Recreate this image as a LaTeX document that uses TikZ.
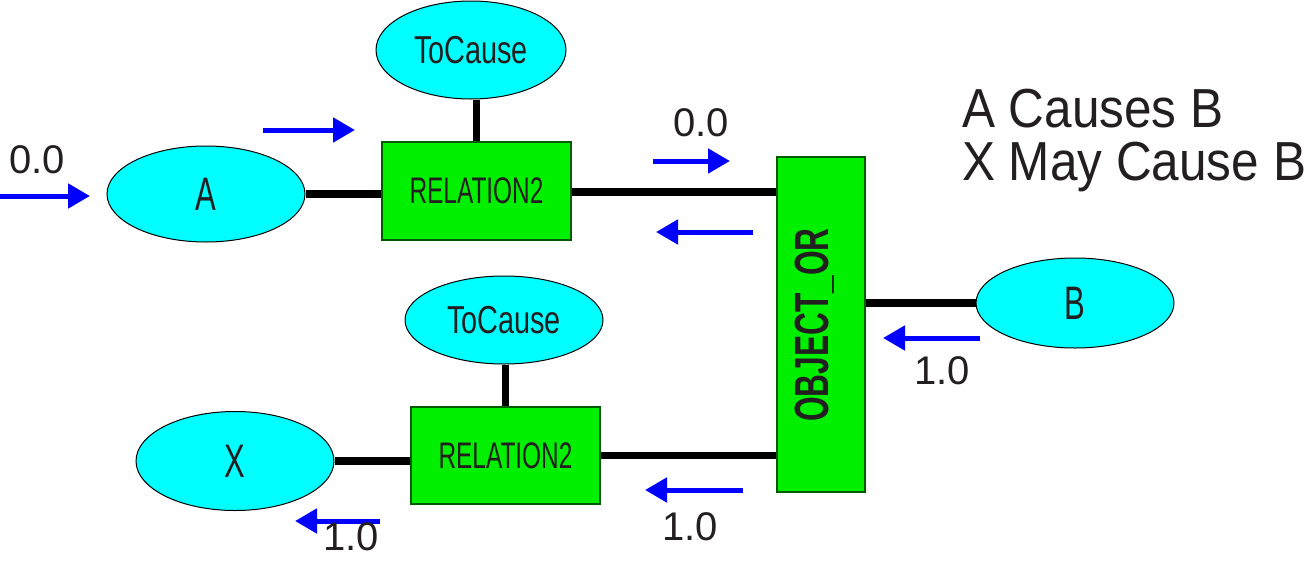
\documentclass[tikz,border=0pt]{standalone}
\usepackage{fontspec}
\setmainfont{Liberation Sans}
\usetikzlibrary{arrows.meta,shapes.geometric,calc}
\definecolor{cy}{RGB}{0,255,255}
\definecolor{gr}{RGB}{0,240,0}
\definecolor{grb}{RGB}{0,90,0}
\definecolor{bl}{RGB}{0,0,255}
\definecolor{tx}{RGB}{35,31,32}
\newcommand\nrw[2]{\scalebox{#1}[1]{#2}}
\newcommand\fs[1]{\fontsize{#1}{#1}\selectfont}
\tikzset{
  ell/.style={ellipse, draw=black, line width=1pt, fill=cy, minimum width=198pt, minimum height=96pt, inner sep=0pt, text=tx},
  box/.style={rectangle, draw=grb, line width=1.5pt, fill=gr, inner sep=0pt, text=tx},
  conn/.style={line width=7.5pt, black},
  flow/.style={line width=5pt, bl, -{Triangle[length=22pt,width=24pt]}},
  lbl/.style={inner sep=0pt, text=tx, font=\fs{40}}
}
\begin{document}
\begin{tikzpicture}[x=1pt,y=-1pt]
\useasboundingbox (0,0) rectangle (1308,560);
% nodes
\node[ell, minimum height=98pt, minimum width=190pt] (T1) at (471,50) {\fs{39}\nrw{0.74}{ToCause}};
\node[ell] (A) at (206,194) {\fs{47}\nrw{0.66}{A}};
\node[box, minimum width=189pt, minimum height=98pt] (R1) at (476.5,191) {\fs{37}\nrw{0.66}{RELATION2}};
\node[box, minimum width=88pt, minimum height=335pt] (OR) at (821,324.5) {};
\node[inner sep=0pt, rotate=90, text=tx] (ORt) at (815,325) {\fs{48}\bfseries\nrw{0.66}{OBJECT\_OR}};
\node[ell, minimum height=90pt] (B) at (1075,303) {\fs{47}\nrw{0.66}{B}};
\node[ell, minimum height=88pt] (T2) at (504,320) {\fs{39}\nrw{0.74}{ToCause}};
\node[box, minimum width=189pt, minimum height=97pt] (R2) at (505.5,455.5) {\fs{37}\nrw{0.66}{RELATION2}};
\node[ell, minimum height=99pt] (X) at (235,461) {\fs{47}\nrw{0.66}{X}};
% connectors
\draw[conn] (A.east) -- (A.east -| R1.west);
\draw[conn] (R1.north) -- (R1.north |- T1.south);
\draw[conn] ($(R1.east)+(0,1)$) -- ($(R1.east -| OR.west)+(0,1)$);
\draw[conn] (B.west) -- (B.west -| OR.east);
\draw[conn] (X.east) -- (X.east -| R2.west);
\draw[conn] (R2.north) -- (R2.north |- T2.south);
\draw[conn] (R2.east) -- (R2.east -| OR.west);
% flow arrows
\coordinate (a1s) at (0,196); \coordinate (a1e) at (90,196);
\coordinate (a2s) at (263,130); \coordinate (a2e) at (355,130);
\coordinate (a3s) at (653,161); \coordinate (a3e) at (730,161);
\coordinate (a4s) at (753,232); \coordinate (a4e) at (656,232);
\coordinate (a5s) at (980,338); \coordinate (a5e) at (883,338);
\coordinate (a6s) at (743,490); \coordinate (a6e) at (645,490);
\coordinate (a7s) at (380,521); \coordinate (a7e) at (295,521);
\draw[flow] (a1s) -- (a1e);
\draw[flow] (a2s) -- (a2e);
\draw[flow] (a3s) -- (a3e);
\draw[flow] (a4s) -- (a4e);
\draw[flow] (a5s) -- (a5e);
\draw[flow] (a6s) -- (a6e);
\draw[flow] (a7s) -- (a7e);
% labels
\node[lbl] (l1) at (37,160) {0.0};
\node[lbl] (l2) at (701,123) {0.0};
\node[lbl] (l3) at (942,371) {1.0};
\node[lbl] (l4) at (690,527) {1.0};
\node[lbl] (l5) at (351,537) {1.0};
\node[inner sep=0pt, anchor=base west, text=tx] (t1) at (962,127) {\fs{55}\nrw{0.9}{A Causes B}};
\node[inner sep=0pt, anchor=base west, text=tx] (t2) at (962,180) {\fs{55}\nrw{0.9}{X May Cause B}};
\end{tikzpicture}
\end{document}
